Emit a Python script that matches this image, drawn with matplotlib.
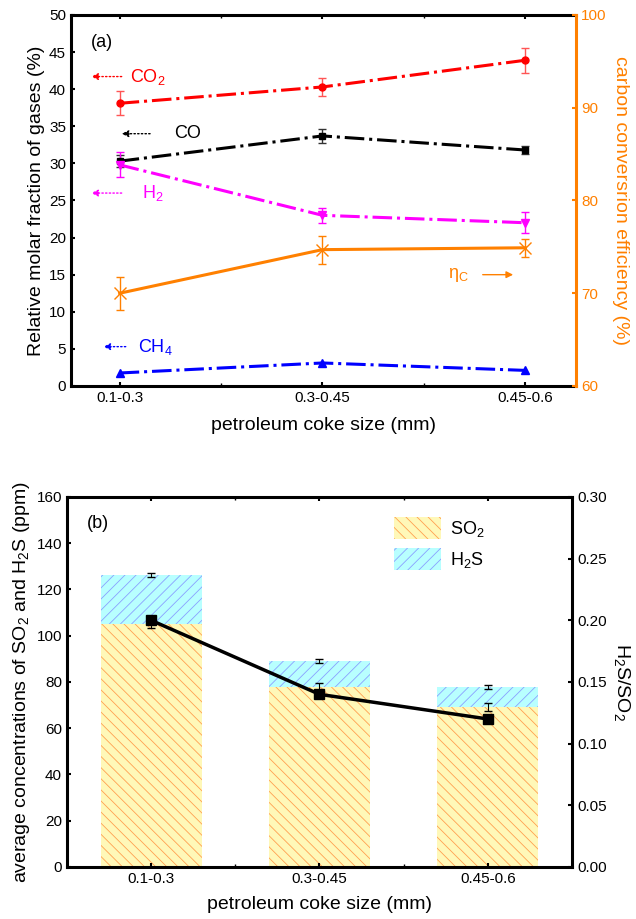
import numpy as np
import matplotlib
matplotlib.use("Agg")
from matplotlib import pyplot as plt
from matplotlib.patches import Patch

plt.rcParams['font.family'] = ['Liberation Sans', 'DejaVu Sans']
plt.rcParams['mathtext.fontset'] = 'custom'
plt.rcParams['mathtext.rm'] = 'Liberation Sans'
plt.rcParams['mathtext.it'] = 'Liberation Sans:italic'
plt.rcParams['mathtext.default'] = 'regular'
plt.rcParams['hatch.linewidth'] = 0.6

# data
sizes = ['0.1-0.3', '0.3-0.45', '0.45-0.6']
co2 = [38.1, 40.3, 43.9]
co2_err = [1.6, 1.2, 1.7]
co = [30.3, 33.7, 31.8]
co_err = [0.8, 1.0, 0.6]
h2 = [29.8, 23.0, 22.0]
h2_err = [1.7, 1.0, 1.4]
ch4 = [1.75, 3.1, 2.1]
ch4_err = [0.3, 0.3, 0.3]
eta_c = [70.0, 74.7, 74.9]
eta_err = [1.8, 1.5, 1.0]

so2 = [105.0, 77.8, 69.2]
so2_err = [1.5, 1.6, 1.7]
h2s = [21.2, 11.3, 8.6]
total_err = [0.8, 0.8, 0.8]
ratio = [0.200, 0.140, 0.120]

x = np.arange(1, len(sizes) + 1)
orange = '#ff8000'
lab_fs = 14

fig = plt.figure(figsize=(6.36, 9.19), dpi=100)

# ---------------- panel (a) ----------------
ax1 = fig.add_axes([0.1116, 0.58, 0.7941, 0.4037])
ax1r = ax1.twinx()

lw = 2.2
ax1.errorbar(x, co2, yerr=co2_err, color='red', ecolor='#ff5555', elinewidth=1, capsize=3,
             ls='-.', lw=lw, marker='o', ms=5)
ax1.errorbar(x, co, yerr=co_err, color='black', ecolor='#333333', elinewidth=1, capsize=3,
             ls='-.', lw=lw, marker='s', ms=5)
ax1.errorbar(x, h2, yerr=h2_err, color='magenta', ecolor='magenta', elinewidth=1, capsize=3,
             ls='-.', lw=lw, marker='v', ms=6)
ax1.errorbar(x, ch4, yerr=ch4_err, color='blue', ecolor='blue', elinewidth=1, capsize=0,
             ls='-.', lw=lw, marker='^', ms=6)
ax1r.errorbar(x, eta_c, yerr=eta_err, color=orange, ecolor=orange, elinewidth=1, capsize=3,
              ls='-', lw=2.2, marker='x', ms=9, mew=1)

ax1.set_xlim(0.76, 3.25)
ax1.set_ylim(0, 50)
ax1r.set_ylim(60, 100)
ax1.set_xticks(x)
ax1.set_xticklabels(sizes)
ax1.set_xticks([1.5, 2.5], minor=True)
ax1.set_yticks(np.arange(0, 51, 5))
ax1r.set_yticks(np.arange(60, 101, 10))
ax1.tick_params(direction='in', length=3, width=1.5, labelsize=11, top=True)
ax1.tick_params(which='minor', direction='in', length=2, width=1, top=True)
ax1r.tick_params(direction='in', length=3, width=1.5, labelsize=11, colors=orange)
for s in ['left', 'bottom', 'top']:
    ax1.spines[s].set_linewidth(2.2)
ax1r.spines['right'].set_linewidth(2.2)
ax1r.spines['right'].set_color(orange)
ax1.spines['right'].set_visible(False)
for s in ['left', 'bottom', 'top']:
    ax1r.spines[s].set_visible(False)

ax1.set_xlabel('petroleum coke size (mm)', fontsize=lab_fs, labelpad=9)
ax1.set_ylabel('Relative molar fraction of gases (%)', fontsize=lab_fs, labelpad=3)
ax1r.set_ylabel('carbon conversrion efficiency (%)', fontsize=lab_fs, color=orange,
                rotation=270, labelpad=16)
ax1.text(0.04, 0.95, '(a)', transform=ax1.transAxes, fontsize=13, va='top')

def tag(ax, xt, yt, xa, col, ls=':'):
    ax.annotate('', xy=(xa, yt), xytext=(xt, yt),
                arrowprops=dict(arrowstyle='-|>', color=col, lw=1, ls=ls,
                                mutation_scale=10, shrinkA=0, shrinkB=0))

tag(ax1, 1.01, 41.7, 0.86, 'red')
ax1.text(1.05, 41.7, 'CO$_2$', color='red', fontsize=13, va='center')
tag(ax1, 1.15, 34.0, 1.01, 'black')
ax1.text(1.27, 34.0, 'CO', color='black', fontsize=13, va='center')
tag(ax1, 1.01, 26.0, 0.86, 'magenta')
ax1.text(1.11, 26.0, 'H$_2$', color='magenta', fontsize=13, va='center')
tag(ax1, 1.03, 5.3, 0.92, 'blue')
ax1.text(1.09, 5.3, 'CH$_4$', color='blue', fontsize=13, va='center')
tag(ax1r, 2.79, 72.0, 2.94, orange, ls='-')
ax1r.text(2.62, 72.0, 'η$_C$', color=orange, fontsize=13, va='center')

# ---------------- panel (b) ----------------
ax2 = fig.add_axes([0.1053, 0.0566, 0.7941, 0.4026])
ax2r = ax2.twinx()

tot = np.array(so2) + np.array(h2s)
ax2.bar(x, so2, width=0.6, color='#fff8b8', edgecolor='#ffa050', hatch='\\\\\\', lw=0, zorder=1)
ax2.bar(x, h2s, width=0.6, bottom=so2, color='#b8ffff', edgecolor='#8aa0ff', hatch='///', lw=0,
        zorder=1)
ax2.errorbar(x, so2, yerr=so2_err, fmt='none', ecolor='black', elinewidth=0.8, capsize=3, zorder=3)
ax2.errorbar(x, tot, yerr=total_err, fmt='none', ecolor='black', elinewidth=0.8, capsize=3, zorder=3)
ax2r.plot(x, ratio, color='black', lw=2.5, marker='s', ms=7)

ax2.set_xlim(0.5, 3.5)
ax2.set_ylim(0, 160)
ax2r.set_ylim(0, 0.30)
ax2.set_xticks(x)
ax2.set_xticklabels(sizes)
ax2.set_xticks([1.5, 2.5], minor=True)
ax2.set_yticks(np.arange(0, 161, 20))
ax2r.set_yticks(np.arange(0, 0.31, 0.05))
ax2r.set_yticklabels(['%.2f' % v for v in np.arange(0, 0.31, 0.05)])
ax2.tick_params(direction='in', length=3, width=1.5, labelsize=11, top=True)
ax2.tick_params(which='minor', direction='in', length=2, width=1, top=True)
ax2r.tick_params(direction='in', length=3, width=1.5, labelsize=11)
for s in ['left', 'bottom', 'top']:
    ax2.spines[s].set_linewidth(2.2)
ax2r.spines['right'].set_linewidth(2.2)
ax2.spines['right'].set_visible(False)
for s in ['left', 'bottom', 'top']:
    ax2r.spines[s].set_visible(False)

ax2.set_xlabel('petroleum coke size (mm)', fontsize=lab_fs, labelpad=7)
ax2.set_ylabel('average concentrations of SO$_2$ and H$_2$S (ppm)', fontsize=lab_fs, labelpad=3)
ax2r.set_ylabel('H$_2$S/SO$_2$', fontsize=lab_fs, rotation=270, labelpad=18)
ax2.text(0.04, 0.95, '(b)', transform=ax2.transAxes, fontsize=13, va='top')

handles = [Patch(facecolor='#fff8b8', edgecolor='#ffa050', hatch='\\\\\\', lw=0, label='SO$_2$'),
           Patch(facecolor='#b8ffff', edgecolor='#8aa0ff', hatch='///', lw=0, label='H$_2$S')]
ax2.legend(handles=handles, loc='upper right', bbox_to_anchor=(0.86, 0.99), frameon=False,
           fontsize=13, handlelength=2.6, handleheight=1.5, handletextpad=0.5, labelspacing=0.5)

fig.savefig('out.png', dpi=100)
